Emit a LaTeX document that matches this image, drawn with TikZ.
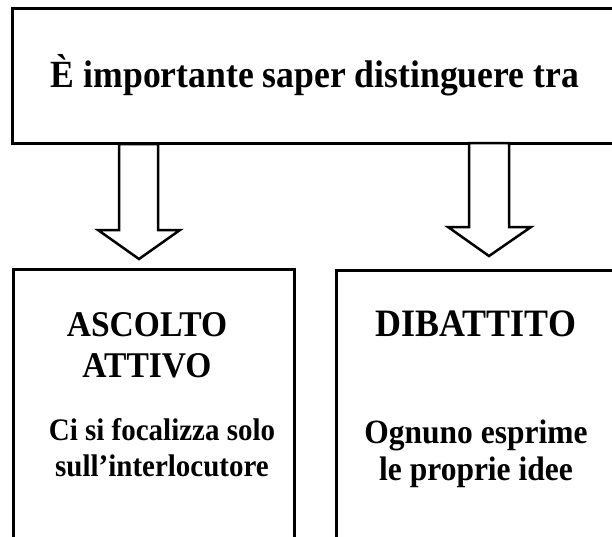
\documentclass[tikz,border=0pt]{standalone}
\usepackage{fontspec}
\setmainfont{Liberation Serif}
\newfontfamily\reffont[FakeStretch=0.926]{Liberation Serif}
\begin{document}
\begin{tikzpicture}[x=1pt,y=-1pt,
  box/.style={draw, line width=3pt, rectangle, inner sep=0pt},
  blockarrow/.style={draw, line width=2.5pt, fill=white, line join=miter},
  toptext/.style={font=\reffont\bfseries\fontsize{38.5}{44}\selectfont, anchor=base, inner sep=0pt},
  lefttitlestyle/.style={font=\reffont\bfseries\fontsize{36.2}{41}\selectfont, anchor=base, align=center, inner sep=0pt},
  righttitlestyle/.style={font=\reffont\bfseries\fontsize{38.8}{41}\selectfont, anchor=base, align=center, inner sep=0pt},
  leftbodystyle/.style={font=\reffont\bfseries\fontsize{31.3}{36}\selectfont, anchor=base, align=center, inner sep=0pt},
  rightbodystyle/.style={font=\reffont\bfseries\fontsize{34}{37}\selectfont, anchor=base, align=center, inner sep=0pt}]
\useasboundingbox (0,0) rectangle (612,536);
\clip (0,0) rectangle (612,536);
% boxes
\node[box, anchor=north west, minimum width=614pt, minimum height=135pt] (topbox) at (11,7) {};
\node[box, anchor=north west, minimum width=281pt, minimum height=280pt] (leftbox) at (12,268) {};
\node[box, anchor=north west, minimum width=281pt, minimum height=280pt] (rightbox) at (335,269) {};
% texts
\node[toptext] (toplabel) at (315,87) {È importante saper distinguere tra};
\node[lefttitlestyle] (lefttitle) at (147,377) {ASCOLTO\\ATTIVO};
\node[leftbodystyle] (leftbody) at (162,476) {Ci si focalizza solo\\sull’interlocutore};
\node[righttitlestyle] (righttitle) at (476,336) {DIBATTITO};
\node[rightbodystyle] (rightbody) at (476,480) {Ognuno esprime\\le proprie idee};
% block arrows (from the top box down to the two boxes)
\draw[blockarrow] (119,144) -- (158,144) -- (158,230) -- (180,230) -- (139,259) -- (98,230) -- (119,230) -- cycle;
\draw[blockarrow] (469,143) -- (509,143) -- (509,227) -- (531,227) -- (489,256) -- (448,227) -- (469,227) -- cycle;
\end{tikzpicture}
\end{document}
